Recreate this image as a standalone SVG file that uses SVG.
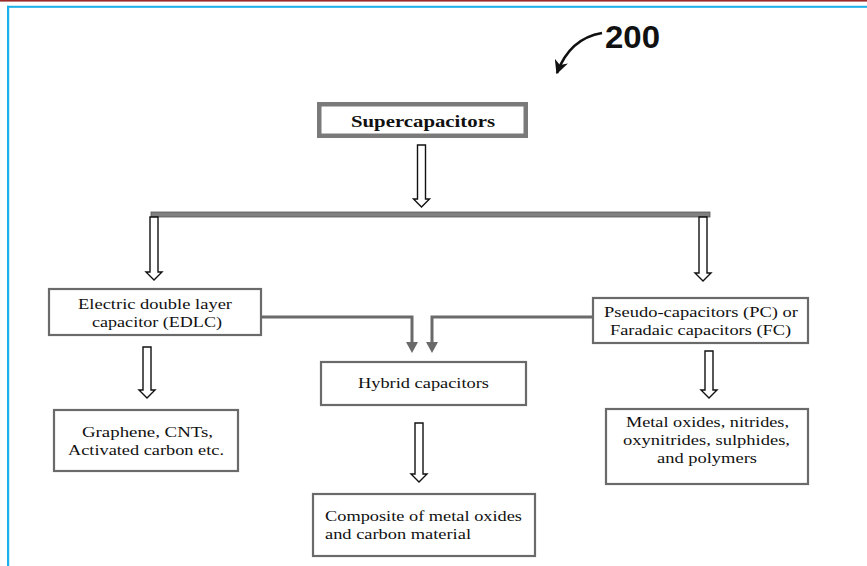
<svg xmlns="http://www.w3.org/2000/svg" width="867" height="566" viewBox="0 0 867 566">
<defs>
<style>
.box{fill:#fff;stroke:#6a6a6a;stroke-width:2.2}
.thick{fill:#fff;stroke:#7a7a7a;stroke-width:4.5}
.t{font-family:"Liberation Serif","Times New Roman",serif;font-size:15.5px;fill:#111;text-anchor:middle}
.tl{font-family:"Liberation Serif","Times New Roman",serif;font-size:15.5px;fill:#111}
.b{font-weight:bold;font-size:17px}
.hollow{fill:#fff;stroke:#111;stroke-width:1.4;stroke-linejoin:miter}
.conn{fill:none;stroke:#6a6a6a;stroke-width:3}
.gh{fill:#6a6a6a}
</style>
<marker id="bh" viewBox="0 0 10 10" refX="9" refY="5" markerWidth="14" markerHeight="14" markerUnits="userSpaceOnUse" orient="auto">
<path d="M0,0 L10,5 L0,10 L3,5 Z" fill="#111"/>
</marker>
</defs>
<rect x="0" y="0" width="867" height="566" fill="#fff"/>
<g id="frame">
<rect x="0" y="0" width="867" height="1.6" fill="#9b2a2a"/>
<rect x="7" y="5.8" width="860" height="2" fill="#1ab0ea"/>
<rect x="7" y="5.8" width="2.2" height="560.2" fill="#1ab0ea"/>
</g>
<g id="label-200">
<text x="605" y="48" font-family="'Liberation Sans',Arial,sans-serif" font-size="31" font-weight="bold" fill="#111" textLength="55" lengthAdjust="spacingAndGlyphs">200</text>
<path d="M602,33 C584,36 567,46 557,73" fill="none" stroke="#111" stroke-width="2.6" marker-end="url(#bh)"/>
</g>
<g id="connectors">
<rect x="151" y="212" width="559" height="5" fill="#808080" stroke="#555" stroke-width="0.8"/>
<path class="hollow" d="M417.5,145 H425.5 V199 H429.5 L421.5,207 L413.5,199 H417.5 Z"/>
<path class="hollow" d="M150,217 H158 V272 H162 L154,280 L146,272 H150 Z"/>
<path class="hollow" d="M699,217 H707 V273 H711 L703,281 L695,273 H699 Z"/>
<path class="hollow" d="M143,347 H151 V390 H155 L147,398 L139,390 H143 Z"/>
<path class="hollow" d="M705,351 H713 V390 H717 L709,398 L701,390 H705 Z"/>
<path class="hollow" d="M415,423 H423 V474 H427 L419,482 L411,474 H415 Z"/>
<path class="conn" d="M262,317 H412 V343"/>
<path class="gh" d="M406,342 L418,342 L412,353 Z"/>
<path class="conn" d="M592,317 H432 V343"/>
<path class="gh" d="M426,342 L438,342 L432,353 Z"/>
</g>
<g id="supercapacitors">
<rect class="thick" x="319.25" y="104.25" width="206.5" height="31.5"/>
<text class="t b" x="423" y="127" textLength="144" lengthAdjust="spacingAndGlyphs">Supercapacitors</text>
</g>
<g id="edlc">
<rect class="box" x="49" y="289" width="212" height="46"/>
<text class="t" x="155" y="309" textLength="154" lengthAdjust="spacingAndGlyphs">Electric double layer</text>
<text class="t" x="157" y="327" textLength="130" lengthAdjust="spacingAndGlyphs">capacitor (EDLC)</text>
</g>
<g id="pc">
<rect class="box" x="593" y="298" width="215" height="45"/>
<text class="t" x="701" y="317" textLength="194" lengthAdjust="spacingAndGlyphs">Pseudo-capacitors (PC) or</text>
<text class="t" x="700.5" y="335" textLength="181" lengthAdjust="spacingAndGlyphs">Faradaic capacitors (FC)</text>
</g>
<g id="hybrid">
<rect class="box" x="321" y="362" width="205" height="43"/>
<text class="t" x="423.5" y="388" textLength="131" lengthAdjust="spacingAndGlyphs">Hybrid capacitors</text>
</g>
<g id="edlc-materials">
<rect class="box" x="54" y="410" width="184" height="61"/>
<text class="t" x="147.5" y="437" textLength="131" lengthAdjust="spacingAndGlyphs">Graphene, CNTs,</text>
<text class="t" x="146" y="455" textLength="156" lengthAdjust="spacingAndGlyphs">Activated carbon etc.</text>
</g>
<g id="pc-materials">
<rect class="box" x="606" y="409" width="202" height="75"/>
<text class="t" x="707.5" y="427" textLength="163" lengthAdjust="spacingAndGlyphs">Metal oxides, nitrides,</text>
<text class="t" x="706.5" y="445" textLength="167" lengthAdjust="spacingAndGlyphs">oxynitrides, sulphides,</text>
<text class="t" x="707" y="463" textLength="100" lengthAdjust="spacingAndGlyphs">and polymers</text>
</g>
<g id="hybrid-materials">
<rect class="box" x="313" y="494" width="222" height="62"/>
<text class="tl" x="325" y="521" textLength="197" lengthAdjust="spacingAndGlyphs">Composite of metal oxides</text>
<text class="tl" x="325" y="539" textLength="146" lengthAdjust="spacingAndGlyphs">and carbon material</text>
</g>
</svg>
